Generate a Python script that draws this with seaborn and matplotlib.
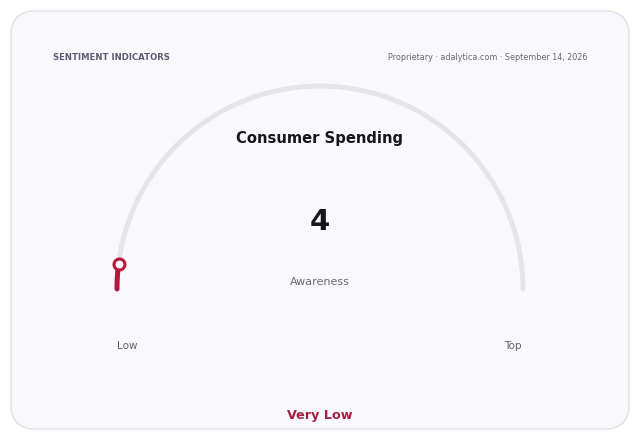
import numpy as np
import matplotlib.pyplot as plt
import seaborn as sns
from matplotlib.patches import FancyBboxPatch

# dados do indicador
titulo = "Consumer Spending"
valor = 4
minimo = 0
maximo = 100
rotulo_valor = "Awareness"
rotulos_escala = ["Low", "Top"]
categoria = "Very Low"
cabecalho = "SENTIMENT INDICATORS"
fonte = "Proprietary · adalytica.com · September 14, 2026"

sns.set_theme(style="white")
plt.rcParams['font.family'] = ['DejaVu Sans']

cor_track = "#e4e4ea"
cor_valor = "#b5173f"

fig = plt.figure(figsize=(6.4, 4.4), dpi=100)
fig.patch.set_facecolor("#ffffff")
ax = fig.add_axes([0, 0, 1, 1])
ax.set_xlim(0, 640)
ax.set_ylim(440, 0)
ax.axis("off")

# cartão
card = FancyBboxPatch((11, 11), 618, 418, boxstyle="round,pad=0,rounding_size=24",
                      facecolor="#f9f9fd", edgecolor="#dedee8", linewidth=1.0)
ax.add_patch(card)

# arco do medidor
cx, cy, r = 320, 289, 203
ang = np.linspace(np.pi, 0, 200)
ax.plot(cx + r * np.cos(ang), cy - r * np.sin(ang), color=cor_track, lw=3.6,
        solid_capstyle="round", zorder=2)

frac = (valor - minimo) / (maximo - minimo)
ang_v = np.linspace(np.pi, np.pi - frac * np.pi, 50)
sns.lineplot(x=cx + r * np.cos(ang_v), y=cy - r * np.sin(ang_v), sort=False,
             color=cor_valor, lw=3.6, ax=ax, zorder=3)
ax.lines[-1].set_solid_capstyle("round")
ax.scatter([cx + r * np.cos(ang_v[-1])], [cy - r * np.sin(ang_v[-1])], s=62,
           facecolor="white", edgecolor=cor_valor, linewidths=2.2, zorder=4)

# textos
ax.text(53, 58, cabecalho, fontsize=6.1, fontweight="bold", color="#5a5d72",
        ha="left", va="center")
ax.text(587, 58, fonte, fontsize=5.75, color="#666872", ha="right", va="center")
ax.text(320, 138, titulo, fontsize=10.6, fontweight="bold", color="#16161c",
        ha="center", va="center")
ax.text(320, 222, str(valor), fontsize=21, fontweight="bold", color="#16161c",
        ha="center", va="center")
ax.text(320, 282, rotulo_valor, fontsize=8, color="#6a6a76", ha="center", va="center")
ax.text(127, 346, rotulos_escala[0], fontsize=7.5, color="#5f5f6a", ha="center", va="center")
ax.text(513, 346, rotulos_escala[1], fontsize=7.5, color="#5f5f6a", ha="center", va="center")
ax.text(320, 415, categoria, fontsize=9.2, fontweight="bold", color="#a81d46",
        ha="center", va="center")

fig.savefig("out.png", dpi=100)
plt.close(fig)
